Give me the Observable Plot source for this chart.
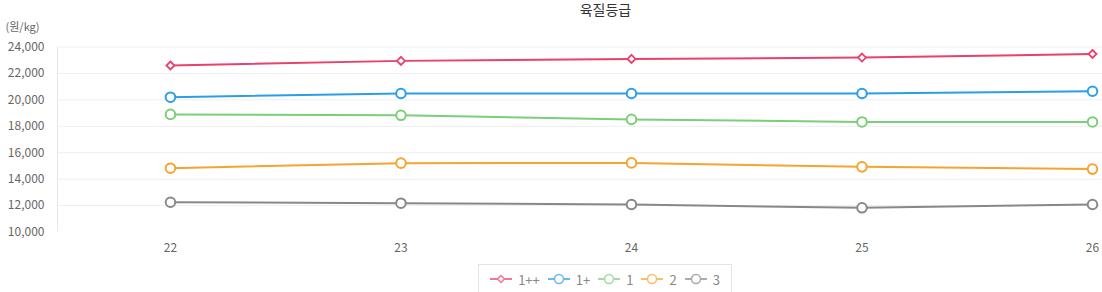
<!DOCTYPE html>
<html>
<head>
<meta charset="utf-8">
<script src="https://cdn.jsdelivr.net/npm/d3@7"></script>
<script src="https://cdn.jsdelivr.net/npm/@observablehq/plot@0.6"></script>
<style>
  html, body { margin: 0; padding: 0; background: #fff; }
  body { width: 1102px; height: 292px; overflow: hidden; font-family: "Noto Sans CJK KR", "Noto Sans", sans-serif; }
  #chart svg { display: block; }
  #legend { position: absolute; left: 478px; top: 264px; width: 254px; height: 30px; border: 1px solid #e3e3e3; box-sizing: border-box; display: flex; align-items: center; justify-content: center; gap: 0; font-size: 13px; color: #888; }
  .item { display: flex; align-items: center; margin: 0 4px; }
  .item svg { margin-right: 6px; }
</style>
</head>
<body>
<div id="chart"></div>
<div id="legend"></div>
<script>
const years = [22, 23, 24, 25, 26];
const seriesNames = ["1++", "1+", "1", "2", "3"];
const g1pp = [22600, 22950, 23100, 23200, 23470];
const g1p  = [20200, 20480, 20480, 20480, 20650];
const g1   = [18900, 18830, 18520, 18330, 18330];
const g2   = [14830, 15210, 15230, 14930, 14760];
const g3   = [12250, 12180, 12080, 11830, 12080];
const yTicks = [10000, 12000, 14000, 16000, 18000, 20000, 22000, 24000];
const colors = ["#e9406d", "#2a9fe8", "#7dce78", "#f5a52d", "#888888"];
const titleText = "육질등급";
const unitText = "(원/kg)";

const seriesValues = [g1pp, g1p, g1, g2, g3];
const data = [];
seriesNames.forEach((s, i) => years.forEach((yr, j) => data.push({series: s, year: yr, value: seriesValues[i][j]})));

const xMin = 21.51, xMax = 26.043;
const font = '"Noto Sans CJK KR", "Noto Sans", sans-serif';

const chart = Plot.plot({
  width: 1102,
  height: 262,
  marginTop: 46.5,
  marginBottom: 30.5,
  marginLeft: 57,
  marginRight: 10,
  style: {fontFamily: font, fontSize: "12px", color: "#666", background: "#fff"},
  x: {type: "linear", domain: [21.51, 26]},
  y: {domain: [10000, 24000]},
  color: {domain: seriesNames, range: colors},
  marks: [
    Plot.ruleY(yTicks.filter(d => d > 10000), {y: d => d, x1: xMin, x2: xMax, stroke: "#eeeeee", strokeWidth: 1, clip: false}),
    Plot.ruleX([xMin], {y1: 10000, y2: 24000, stroke: "#e8e8e8", strokeWidth: 1}),
    Plot.axisY({ticks: yTicks, tickSize: 0, tickPadding: 13, tickFormat: d3.format(","), fill: "#666", fontSize: 12, label: null}),
    Plot.axisX({ticks: years, tickSize: 0, tickPadding: 11, tickFormat: d => String(d), fill: "#666", fontSize: 12, label: null}),
    Plot.line(data, {x: "year", y: "value", z: "series", stroke: "series", strokeWidth: 2}),
    Plot.dot(data.filter(d => d.series !== "1++"), {x: "year", y: "value", stroke: "series", fill: "white", r: 4.8, strokeWidth: 2}),
    Plot.dot(data.filter(d => d.series === "1++"), {x: "year", y: "value", stroke: "series", fill: "white", symbol: "diamond2", r: 3.6, strokeWidth: 1.8}),
    Plot.text([titleText], {text: d => d, frameAnchor: "top-left", dx: 605 - 57, dy: 10 - 46.5, textAnchor: "middle", lineAnchor: "middle", fontSize: 14, fill: "#333"}),
    Plot.text([unitText], {text: d => d, frameAnchor: "top-left", dx: 5 - 57, dy: 27 - 46.5, textAnchor: "start", lineAnchor: "middle", fontSize: 11, fill: "#666"})
  ]
});
document.getElementById("chart").appendChild(chart);

const legend = document.getElementById("legend");
seriesNames.forEach((s, i) => {
  const item = document.createElement("div");
  item.className = "item";
  const marker = i === 0
    ? `<path d="M11,4.5 L14.5,8 L11,11.5 L7.5,8 Z" fill="white" stroke="${colors[i]}" stroke-width="1.5"/>`
    : `<circle cx="11" cy="8" r="4.5" fill="white" stroke="${colors[i]}" stroke-width="1.5"/>`;
  item.innerHTML = `<svg width="22" height="16" style="opacity:0.7"><line x1="0" y1="8" x2="22" y2="8" stroke="${colors[i]}" stroke-width="2"/>${marker}</svg><span>${s}</span>`;
  legend.appendChild(item);
});
</script>
</body>
</html>
